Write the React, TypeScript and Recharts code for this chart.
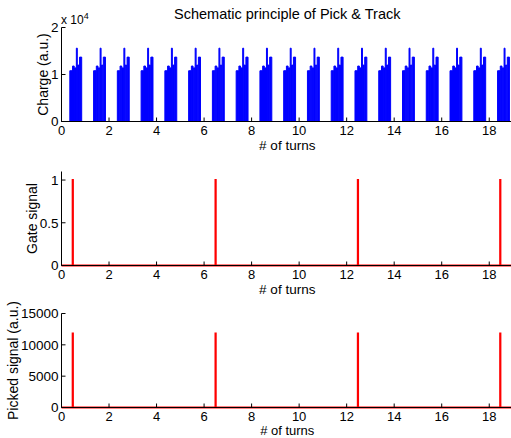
import React from 'react'
import { ComposedChart, Area, Line, XAxis, YAxis } from 'recharts'

// turn index of each bunch train
const TRAINS = [0, 1, 2, 3, 4, 5, 6, 7, 8, 9, 10, 11, 12, 13, 14, 15, 16, 17, 18]
// bunch layout inside one train (offset in turns) and charge
const BUNCH_START = [0.35, 0.465, 0.545, 0.625, 0.68, 0.76]
const BUNCH_END = [0.455, 0.535, 0.615, 0.665, 0.74, 0.85]
const BUNCH_CHARGE = [10800, 11800, 11400, 15600, 12000, 13700]

const GATE_TURNS = [0.47, 6.48, 12.47, 18.46]
const GATE_LEVEL = [1, 1, 1, 1]
const PICKED_CHARGE = [11800, 11800, 11800, 11800]

const X_TICKS = [0, 2, 4, 6, 8, 10, 12, 14, 16, 18]
const CHARGE_TICKS = [0, 10000, 20000]
const GATE_TICKS = [0, 0.5, 1]
const PICKED_TICKS = [0, 5000, 10000, 15000]

const TURN_MAX = 19
const PULSE = 0.01
const FONT = '"Liberation Sans", Arial, Helvetica, sans-serif'

const chargeData: { t: number; v: number }[] = [{ t: 0, v: 0 }]
TRAINS.forEach((n) => {
  BUNCH_START.forEach((s, i) => {
    const e = BUNCH_END[i]
    const q = BUNCH_CHARGE[i]
    chargeData.push({ t: n + s, v: 0 }, { t: n + s, v: q }, { t: n + e, v: q }, { t: n + e, v: 0 })
  })
})
chargeData.push({ t: TURN_MAX, v: 0 })

function pulses(levels: number[]) {
  const out: { t: number; v: number }[] = [{ t: 0, v: 0 }]
  GATE_TURNS.forEach((g, i) => {
    out.push({ t: g, v: 0 }, { t: g, v: levels[i] }, { t: g + PULSE, v: levels[i] }, { t: g + PULSE, v: 0 })
  })
  out.push({ t: TURN_MAX, v: 0 })
  return out
}

const gateData = pulses(GATE_LEVEL)
const pickedData = pulses(PICKED_CHARGE)

const TICK = { fill: '#000', fontSize: 13.5, fontFamily: FONT }
const BLACK = { stroke: '#000', strokeWidth: 1 }

function frame(yDomain: number[], yTicks: number[], fmt?: (v: number) => string, xMargin = 8.5) {
  return [
    <XAxis key="xb" dataKey="t" type="number" domain={[0, TURN_MAX]} ticks={X_TICKS} interval={0}
      tickSize={-4} tickMargin={xMargin} height={28.5} tick={{ ...TICK, fontSize: 13 }} axisLine={BLACK} tickLine={BLACK} />,
    <XAxis key="xt" xAxisId="top" orientation="top" dataKey="t" type="number" domain={[0, TURN_MAX]}
      ticks={X_TICKS} interval={0} tickSize={-4} height={0} tick={false} axisLine={BLACK} tickLine={BLACK} />,
    <YAxis key="yl" type="number" domain={yDomain} ticks={yTicks} interval={0} width={61.5}
      tickSize={-4} tickMargin={7} tick={TICK} tickFormatter={fmt} axisLine={BLACK} tickLine={BLACK} />,
    <YAxis key="yr" yAxisId="right" orientation="right" type="number" domain={yDomain} ticks={yTicks}
      interval={0} width={0} tickSize={-4} tick={false} axisLine={BLACK} tickLine={BLACK} />,
  ]
}

const MARGIN = { top: 27.5, right: 7, bottom: 0, left: 0 }

export default function App() {
  return (
    <div style={{ position: 'fixed', left: 0, top: 0, width: 511, height: 438, overflow: 'hidden', background: '#fff' }}>
      <div style={{ position: 'absolute', left: 0, top: 0 }}>
        <ComposedChart width={520} height={150} data={chargeData} margin={MARGIN}>
          {frame([0, 20000], CHARGE_TICKS, (v) => String(v / 10000))}
          <Area type="linear" dataKey="v" stroke="#0000ff" strokeWidth={1} fill="#0000ff" fillOpacity={1}
            dot={false} activeDot={false} isAnimationActive={false} />
        </ComposedChart>
      </div>
      <div style={{ position: 'absolute', left: 0, top: 144 }}>
        <ComposedChart width={520} height={150} data={gateData} margin={MARGIN}>
          {frame([0, 1.1], GATE_TICKS)}
          <Line type="linear" dataKey="v" stroke="#ff0000" strokeWidth={2}
            dot={false} activeDot={false} isAnimationActive={false} />
        </ComposedChart>
      </div>
      <div style={{ position: 'absolute', left: 0, top: 286 }}>
        <ComposedChart width={520} height={150} data={pickedData} margin={MARGIN}>
          {frame([0, 15000], PICKED_TICKS, undefined, 8)}
          <Line type="linear" dataKey="v" stroke="#ff0000" strokeWidth={2}
            dot={false} activeDot={false} isAnimationActive={false} />
        </ComposedChart>
      </div>
      <svg width={511} height={438} style={{ position: 'absolute', left: 0, top: 0, pointerEvents: 'none' }}
        fontFamily={FONT} fill="#000">
        <text x={287.25} y={18.5} fontSize={14.5} textAnchor="middle">Schematic principle of Pick &amp; Track</text>
        <text x={61} y={24} fontSize={12}>
          x 10<tspan fontSize={9} dy={-5}>4</tspan>
        </text>
        <text x={42.7} y={74.5} fontSize={14} textAnchor="middle" dominantBaseline="central"
          transform="rotate(-90 42.7 74.5)">Charge (a.u.)</text>
        <text x={31.7} y={218.5} fontSize={14} textAnchor="middle" dominantBaseline="central"
          transform="rotate(-90 31.7 218.5)">Gate signal</text>
        <text x={13.3} y={360.5} fontSize={14} textAnchor="middle" dominantBaseline="central"
          transform="rotate(-90 13.3 360.5)">Picked signal (a.u.)</text>
        <text x={287.25} y={150} fontSize={13.5} textAnchor="middle"># of turns</text>
        <text x={287.25} y={294} fontSize={13.5} textAnchor="middle"># of turns</text>
        <text x={287.25} y={435.2} fontSize={13} textAnchor="middle"># of turns</text>
      </svg>
    </div>
  )
}
